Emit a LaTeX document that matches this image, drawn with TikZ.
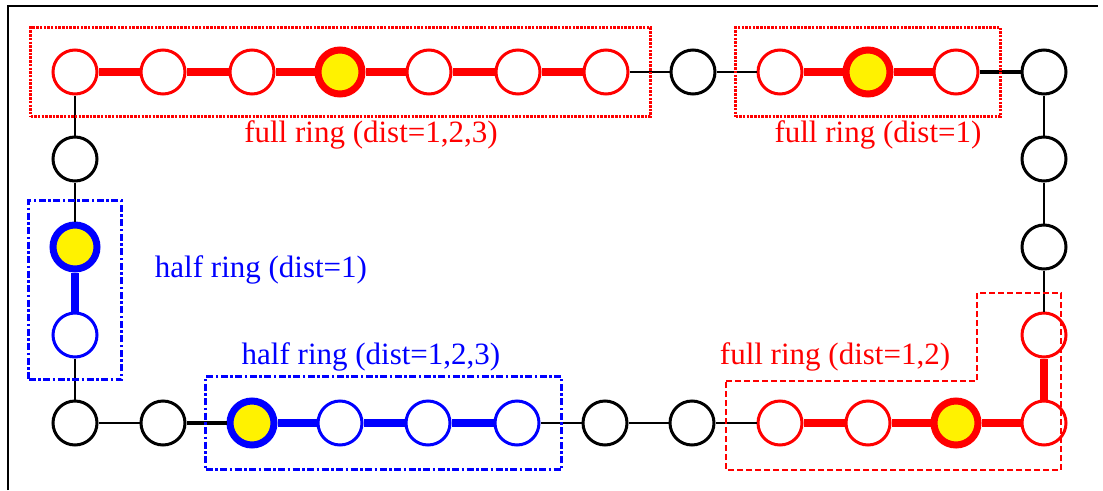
\documentclass[tikz,border=0pt]{standalone}
\usepackage{fontspec}
\setmainfont{Liberation Serif}
\usetikzlibrary{fit}
\begin{document}
\begin{tikzpicture}[x=1pt,y=-1pt,every node/.style={font=\fontsize{31}{31}\selectfont},
ring/.style={circle,draw,line width=3pt,minimum size=44pt,inner sep=0pt,fill=white},
rnode/.style={ring,draw=red},bnode/.style={ring,draw=blue},knode/.style={ring,draw=black},
rhub/.style={ring,draw=red,fill=yellow,line width=7pt},bhub/.style={ring,draw=blue,fill=yellow,line width=7pt},
link/.style={line width=2.2pt},tlink/.style={line width=3.5pt},rlink/.style={red,line width=7.5pt},blink/.style={blue,line width=7.5pt},
rbox/.style={draw=red,line width=3pt,dash pattern=on 2.5pt off 1.2pt,inner sep=21pt},
bbox/.style={draw=blue,line width=2.6pt,dash pattern=on 7pt off 2.5pt on 2.5pt off 2.5pt,inner sep=21pt},
lbl/.style={inner sep=0pt}]
\useasboundingbox (0,0) rectangle (1103,490);
\draw[line width=1.5pt] (8,490) -- (8,6) -- (1098,6);
% top row
\node[rnode] (t1) at (75,72) {}; \node[rnode] (t2) at (163,72) {}; \node[rnode] (t3) at (252,72) {};
\node[rhub] (t4) at (340,72) {}; \node[rnode] (t5) at (429,72) {}; \node[rnode] (t6) at (518,72) {};
\node[rnode] (t7) at (606,72) {}; \node[knode] (t8) at (693,72) {}; \node[rnode] (t9) at (780,72) {};
\node[rhub] (t10) at (868,72) {}; \node[rnode] (t11) at (956,72) {}; \node[knode] (t12) at (1044,72) {};
% left column
\node[knode] (l1) at (75,159) {}; \node[bhub] (l2) at (75,247) {}; \node[bnode] (l3) at (75,335) {};
% bottom row
\node[knode] (b1) at (75,423) {}; \node[knode] (b2) at (163,423) {}; \node[bhub] (b3) at (252,423) {};
\node[bnode] (b4) at (340,423) {}; \node[bnode] (b5) at (428,423) {}; \node[bnode] (b6) at (517,423) {};
\node[knode] (b7) at (605,423) {}; \node[knode] (b8) at (692,423) {}; \node[rnode] (b9) at (780,423) {};
\node[rnode] (b10) at (868,423) {}; \node[rhub] (b11) at (956,423) {}; \node[rnode] (b12) at (1044,423) {};
% right column
\node[knode] (r1) at (1044,159) {}; \node[knode] (r2) at (1044,247) {}; \node[rnode] (r3) at (1044,335) {};
% links
\draw[rlink] (t1) -- (t2) -- (t3) -- (t4) -- (t5) -- (t6) -- (t7);
\draw[link] (t7) -- (t8) -- (t9);
\draw[rlink] (t9) -- (t10) -- (t11);
\draw[tlink] (t11) -- (t12);
\draw[link] (t12) -- (r1) -- (r2) -- (r3);
\draw[rlink] (r3) -- (b12) -- (b11) -- (b10) -- (b9);
\draw[link] (b9) -- (b8) -- (b7) -- (b6);
\draw[blink] (b6) -- (b5) -- (b4) -- (b3);
\draw[tlink] (b3) -- (b2);
\draw[link] (b2) -- (b1) -- (l3);
\draw[blink] (l3) -- (l2);
\draw[link] (l2) -- (l1) -- (t1);
% groups
\node[rbox,fit=(t1)(t7)] (g1) {};
\node[rbox,fit=(t9)(t11)] (g2) {};
\node[bbox,fit=(l2)(l3)] (g3) {};
\node[bbox,fit=(b3)(b6)] (g4) {};
\draw[red,line width=1.8pt,dash pattern=on 6pt off 3pt] (726,381) -- (977,381) -- (977,293) -- (1061,293) -- (1061,470) -- (726,470) -- cycle;
\node[lbl,red] (n1) at (371,135) {full ring (dist=1,2,3)};
\node[lbl,red] (n2) at (878,135) {full ring (dist=1)};
\node[lbl,blue] (n3) at (261,270) {half ring (dist=1)};
\node[lbl,blue] (n4) at (371,357) {half ring (dist=1,2,3)};
\node[lbl,red] (n5) at (835,357) {full ring (dist=1,2)};
\end{tikzpicture}
\end{document}
